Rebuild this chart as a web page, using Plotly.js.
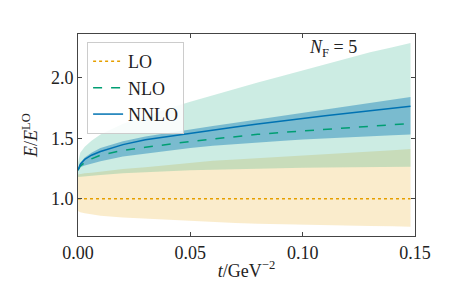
<!DOCTYPE html>
<html>
<head>
<meta charset="utf-8">
<script src="https://cdn.plot.ly/plotly-3.0.1.min.js"></script>
<style>html,body{margin:0;padding:0;background:#fff;}#chart{width:461px;height:284px;}</style>
</head>
<body>
<div id="chart"></div>
<script>
// flow time t (GeV^-2)
const t = [0, 0.001, 0.003, 0.006, 0.01, 0.02, 0.03, 0.04, 0.05, 0.06, 0.07, 0.08, 0.09, 0.10, 0.11, 0.12, 0.13, 0.14, 0.148];

// LO
const loCentral = [1.0, 1.0, 1.0, 1.0, 1.0, 1.0, 1.0, 1.0, 1.0, 1.0, 1.0, 1.0, 1.0, 1.0, 1.0, 1.0, 1.0, 1.0, 1.0];
const loUpper   = [1.20, 1.205, 1.21, 1.215, 1.225, 1.245, 1.26, 1.28, 1.30, 1.315, 1.325, 1.335, 1.345, 1.355, 1.365, 1.375, 1.39, 1.40, 1.41];
const loLower   = [0.90, 0.89, 0.88, 0.87, 0.86, 0.845, 0.835, 0.825, 0.815, 0.808, 0.80, 0.795, 0.79, 0.786, 0.782, 0.779, 0.776, 0.773, 0.77];

// NLO
const nloCentral = [1.236, 1.27, 1.30, 1.33, 1.36, 1.40, 1.425, 1.452, 1.473, 1.493, 1.514, 1.532, 1.547, 1.561, 1.575, 1.588, 1.60, 1.611, 1.62];
const nloUpper   = [1.30, 1.38, 1.43, 1.48, 1.53, 1.62, 1.68, 1.745, 1.80, 1.855, 1.905, 1.96, 2.01, 2.06, 2.11, 2.16, 2.21, 2.25, 2.285];
const nloLower   = [1.18, 1.182, 1.186, 1.19, 1.197, 1.21, 1.22, 1.228, 1.235, 1.24, 1.245, 1.249, 1.253, 1.256, 1.258, 1.26, 1.262, 1.263, 1.264];

// NNLO
const nnloCentral = [1.236, 1.285, 1.325, 1.36, 1.39, 1.447, 1.487, 1.515, 1.542, 1.568, 1.593, 1.617, 1.641, 1.664, 1.686, 1.706, 1.726, 1.746, 1.764];
const nnloUpper   = [1.236, 1.295, 1.34, 1.38, 1.42, 1.475, 1.515, 1.545, 1.57, 1.60, 1.628, 1.655, 1.685, 1.712, 1.738, 1.764, 1.79, 1.815, 1.84];
const nnloLower   = [1.236, 1.26, 1.275, 1.29, 1.31, 1.35, 1.375, 1.40, 1.42, 1.437, 1.452, 1.465, 1.478, 1.49, 1.50, 1.51, 1.518, 1.525, 1.53];

const xTicks = [0, 0.05, 0.10, 0.15];
const xTickText = ["0.00", "0.05", "0.10", "0.15"];
const yTicks = [1.0, 1.5, 2.0];
const yTickText = ["1.0", "1.5", "2.0"];

const cLO = "#E69F00", cNLO = "#009E73", cNNLO = "#0072B2";
const FONT = "'Liberation Serif', 'DejaVu Serif', serif";
const FS = 18;

function band(lower, upper, fillcolor) {
  return [
    {x: t, y: lower, mode: "lines", line: {width: 0, color: "rgba(0,0,0,0)"}, showlegend: false, hoverinfo: "skip"},
    {x: t, y: upper, mode: "lines", line: {width: 0, color: "rgba(0,0,0,0)"}, fill: "tonexty", fillcolor: fillcolor, showlegend: false, hoverinfo: "skip"}
  ];
}

const data = [
  ...band(loLower, loUpper, "rgba(230,159,0,0.2)"),
  ...band(nloLower, nloUpper, "rgba(0,158,115,0.2)"),
  ...band(nnloLower, nnloUpper, "rgba(0,114,178,0.4)"),
  {x: t, y: loCentral, mode: "lines", name: "LO", line: {color: cLO, width: 1.5, dash: "dot"}},
  {x: t, y: nloCentral, mode: "lines", name: "NLO", line: {color: cNLO, width: 1.5, dash: "dash"}},
  {x: t, y: nnloCentral, mode: "lines", name: "NNLO", line: {color: cNNLO, width: 1.5}}
];

const axisCommon = {
  showgrid: false, zeroline: false, showline: true, linecolor: "#444", linewidth: 1,
  mirror: "ticks", ticks: "inside", ticklen: 4, tickcolor: "#444", tickwidth: 1,
  tickfont: {family: FONT, size: FS, color: "#222"}
};

const layout = {
  width: 461, height: 284,
  margin: {l: 78, r: 46, t: 34, b: 48},
  paper_bgcolor: "#fff", plot_bgcolor: "#fff",
  font: {family: FONT, size: FS, color: "#222"},
  xaxis: Object.assign({}, axisCommon, {
    range: [0, 0.15], tickvals: xTicks, ticktext: xTickText,
    title: {text: "<i>t</i>/GeV<sup>−2</sup>", font: {family: FONT, size: FS, color: "#222"}, standoff: 2}
  }),
  yaxis: Object.assign({}, axisCommon, {
    range: [0.693, 2.36], tickvals: yTicks, ticktext: yTickText,
    title: {text: "<i>E</i>/<i>E</i><sup>LO</sup>", font: {family: FONT, size: FS, color: "#222"}, standoff: 8}
  }),
  legend: {
    x: 0.027, y: 0.96, xanchor: "left", yanchor: "top", traceorder: "normal",
    bgcolor: "rgba(255,255,255,0.85)", bordercolor: "#ccc", borderwidth: 1,
    font: {family: FONT, size: FS, color: "#222"}, tracegroupgap: 0
  },
  annotations: [{
    xref: "paper", yref: "paper", x: 0.757, y: 0.93, xanchor: "center", yanchor: "middle",
    text: "<i>N</i><sub>F</sub> = 5", showarrow: false, font: {family: FONT, size: FS, color: "#222"}
  }]
};

Plotly.newPlot("chart", data, layout, {displayModeBar: false, staticPlot: true});
</script>
</body>
</html>
